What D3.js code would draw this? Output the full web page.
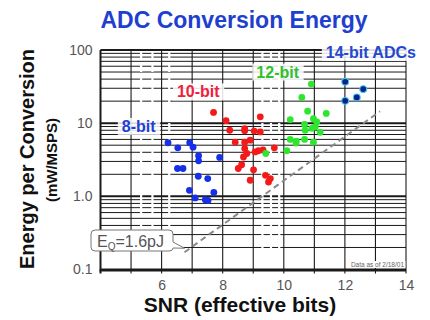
<!DOCTYPE html>
<html>
<head>
<meta charset="utf-8">
<script src="https://cdn.jsdelivr.net/npm/d3@7"></script>
<style>
  html, body { margin: 0; padding: 0; background: #fff; }
  svg { display: block; font-family: Arial, "Liberation Sans", sans-serif; }
</style>
</head>
<body>
<svg id="chart" width="430" height="320"></svg>
<script>
// Axis ticks
const xTickValues = [6, 8, 10, 12, 14];
const yTickValues = [0.1, 1, 10, 100];
const yTickLabels = ["0.1", "1.0", "10", "100"];

// 8-bit converters: effective bits and energy per conversion (nJ = mW/MSPS)
const snr8    = [6.21, 6.53, 6.92, 7.03, 7.21, 7.21, 7.90, 6.52, 6.70, 7.20, 7.51, 6.91, 7.71, 7.10, 7.43, 7.52];
const energy8 = [5.4, 4.6, 5.4, 4.7, 3.6, 3.06, 3.4, 2.4, 2.4, 1.88, 1.75, 1.21, 1.13, 0.95, 0.90, 0.88];

// 10-bit converters
const snr10    = [7.70, 8.11, 8.23, 8.72, 8.72, 9.03, 9.23, 9.23, 8.41, 8.72, 8.90, 8.72, 8.79, 8.68, 8.62, 8.51, 9.06, 9.17, 9.32, 9.69, 9.01, 8.90, 9.40, 9.56, 9.50];
const energy10 = [14.0, 10.8, 8.0, 8.4, 7.85, 7.8, 7.6, 12.2, 5.5, 5.5, 5.85, 4.5, 3.85, 3.45, 2.7, 2.4, 4.05, 4.2, 4.3, 4.6, 2.3, 1.66, 1.94, 1.75, 1.57];

// 12-bit converters
const snr12    = [10.90, 10.59, 10.78, 11.39, 10.21, 10.97, 11.08, 10.68, 11.03, 10.92, 10.70, 11.19, 10.21, 10.41, 10.40, 10.68, 10.97, 10.10, 9.41];
const energy12 = [34.2, 22.5, 14.6, 13.6, 11.2, 11.5, 10.4, 9.6, 8.9, 8.5, 8.0, 7.5, 6.0, 5.7, 5.35, 6.0, 5.5, 4.2, 3.85];

// 14-bit converters
const snr14    = [12.01, 12.60, 12.39, 12.01];
const energy14 = [36.8, 29.2, 22.5, 20.2];

// Figure of merit line: E = E_Q * 2^ENOB, with E_Q in pJ
const eqPicojoule = 1.6;
const eqLineBits = [6.75, 13.15];

const svg = d3.select("#chart");

const x = d3.scaleLinear().domain([4, 14]).range([100.5, 406]);
const y = d3.scaleLog().domain([0.1, 100]).range([269.5, 50]);

// ---- log-paper grid ----
const grid = svg.append("g");
const minorValues = y.ticks().filter(v => v >= 0.1 && v <= 100);
const isDecade = v => Math.abs(Math.log10(v) - Math.round(Math.log10(v))) < 1e-9;

grid.selectAll("line.h").data(minorValues).join("line")
  .attr("x1", x(4)).attr("x2", x(14))
  .attr("y1", d => y(d)).attr("y2", d => y(d))
  .attr("stroke", "#1a1a1a")
  .attr("stroke-width", d => isDecade(d) ? 2 : 1);

// breaks in the printed rulings of the paper
const breakBits = [5.33, 5.7, 6.25, 9.3, 9.58, 9.85];
grid.selectAll("line.brk").data(breakBits).join("line")
  .attr("x1", d => x(d)).attr("x2", d => x(d))
  .attr("y1", y(100) + 1).attr("y2", y(0.1) - 2)
  .attr("stroke", "#fff").attr("stroke-width", 2.2)
  .attr("stroke-dasharray", "9,3");

grid.selectAll("line.v").data(d3.range(4, 15)).join("line")
  .attr("x1", d => x(d)).attr("x2", d => x(d))
  .attr("y1", y(100)).attr("y2", y(0.1) + 4)
  .attr("stroke", "#1a1a1a")
  .attr("stroke-width", d => (d === 4) ? 2 : 1.1);

// bottom frame line
grid.append("line")
  .attr("x1", x(4) - 1).attr("x2", x(14))
  .attr("y1", y(0.1) + 1).attr("y2", y(0.1) + 1)
  .attr("stroke", "#1a1a1a").attr("stroke-width", 2);

// ---- axis labels ----
const yAxis = d3.axisLeft(y).tickValues(yTickValues)
  .tickFormat((d, i) => yTickLabels[i]).tickSize(0).tickPadding(8);
const gy = svg.append("g").attr("transform", `translate(${x(4)},0)`).call(yAxis);
gy.select(".domain").remove();
gy.selectAll("text").attr("font-size", 14).attr("fill", "#555")
  .attr("font-family", "Arial, 'Liberation Sans', sans-serif");

const xAxis = d3.axisBottom(x).tickValues(xTickValues).tickFormat(d3.format("d"))
  .tickSize(0).tickPadding(11);
const gx = svg.append("g").attr("transform", `translate(0,${y(0.1)})`).call(xAxis);
gx.select(".domain").remove();
gx.selectAll("text").attr("font-size", 14).attr("fill", "#555")
  .attr("font-family", "Arial, 'Liberation Sans', sans-serif");

// ---- E_Q reference line ----
const eqNanojoule = eqPicojoule / 1000;
const eqLine = d3.line().x(d => x(d)).y(d => y(eqNanojoule * Math.pow(2, d)));
svg.append("path")
  .attr("d", eqLine(eqLineBits))
  .attr("fill", "none").attr("stroke", "#8a8a8a")
  .attr("stroke-width", 2).attr("stroke-dasharray", "6,4");

// ---- data points ----
function drawSeries(bits, energy, fill, stroke) {
  svg.append("g").selectAll("circle")
    .data(bits.map((b, i) => ({ b, e: energy[i] })))
    .join("circle")
    .attr("cx", d => x(d.b)).attr("cy", d => y(d.e))
    .attr("r", 3.4)
    .attr("fill", fill)
    .attr("stroke", stroke || "none")
    .attr("stroke-width", stroke ? 1.1 : 0);
}
drawSeries(snr8, energy8, "#1530e6");
drawSeries(snr10, energy10, "#f51a1a");
drawSeries(snr12, energy12, "#2ee62e");
drawSeries(snr14, energy14, "#0c1f8c", "#3cc8e6");

// ---- series labels ----
const seriesLabels = [
  { text: "8-bit",        bits: 5.25,  val: 7.6,  color: "#1e40d6" },
  { text: "10-bit",       bits: 7.2,   val: 22.5, color: "#f0203a" },
  { text: "12-bit",       bits: 9.8,   val: 42,   color: "#2fbf2f" },
  { text: "14-bit ADCs",  bits: 12.85, val: 78,   color: "#2448d0" }
];
const lab = svg.append("g");
seriesLabels.forEach(l => {
  const t = lab.append("text")
    .attr("x", x(l.bits)).attr("y", y(l.val))
    .attr("text-anchor", "middle")
    .attr("font-size", 16).attr("font-weight", "bold")
    .attr("fill", l.color).text(l.text);
  const bb = t.node().getBBox();
  lab.insert("rect", () => t.node())
    .attr("x", bb.x - 4).attr("y", bb.y)
    .attr("width", bb.width + 8).attr("height", bb.height)
    .attr("fill", "#fff").attr("opacity", 0.85);
});

// ---- E_Q callout ----
const tipX = x(eqLineBits[0]), tipY = y(eqNanojoule * Math.pow(2, eqLineBits[0])) - 4;
const bx0 = 91, bx1 = 173, by0 = 230, by1 = 251, r = 4;
const callout = d3.path();
callout.moveTo(bx0 + r, by0);
callout.lineTo(bx1 - r, by0);
callout.quadraticCurveTo(bx1, by0, bx1, by0 + r);
callout.lineTo(bx1, by1 - 9);
callout.lineTo(tipX, tipY);
callout.lineTo(bx1, by1 - 3);
callout.lineTo(bx1, by1 - r + 1);
callout.quadraticCurveTo(bx1, by1, bx1 - r, by1);
callout.lineTo(bx0 + r, by1);
callout.quadraticCurveTo(bx0, by1, bx0, by1 - r);
callout.lineTo(bx0, by0 + r);
callout.quadraticCurveTo(bx0, by0, bx0 + r, by0);
callout.closePath();
svg.append("path").attr("d", callout.toString())
  .attr("fill", "#fff").attr("stroke", "#777").attr("stroke-width", 1);

const eqText = svg.append("text").attr("x", 97).attr("y", 247)
  .attr("font-size", 16).attr("fill", "#555");
eqText.append("tspan").text("E");
eqText.append("tspan").attr("font-size", 10).attr("dy", 3).text("Q");
eqText.append("tspan").attr("dy", -3).text(`=${eqPicojoule}pJ`);

// ---- data note ----
const note = svg.append("text").attr("x", 404).attr("y", 267)
  .attr("text-anchor", "end").attr("font-size", 6.5).attr("fill", "#666")
  .text("Data as of 2/18/01");
const nb = note.node().getBBox();
svg.insert("rect", () => note.node())
  .attr("x", nb.x - 1).attr("y", nb.y).attr("width", nb.width + 2).attr("height", nb.height)
  .attr("fill", "#fff");

// ---- titles ----
svg.append("text").attr("x", 234).attr("y", 28)
  .attr("text-anchor", "middle").attr("font-size", 23).attr("font-weight", "bold")
  .attr("fill", "#1e3fcf").text("ADC Conversion Energy");

svg.append("text")
  .attr("transform", "translate(34,159) rotate(-90)")
  .attr("text-anchor", "middle").attr("font-size", 20).attr("font-weight", "bold")
  .attr("fill", "#111").text("Energy per Conversion");

svg.append("text")
  .attr("transform", "translate(57,160) rotate(-90)")
  .attr("text-anchor", "middle").attr("font-size", 15).attr("font-weight", "bold")
  .attr("fill", "#111").text("(mW/MSPS)");

svg.append("text").attr("x", 240).attr("y", 312)
  .attr("text-anchor", "middle").attr("font-size", 21).attr("font-weight", "bold")
  .attr("fill", "#111").text("SNR (effective bits)");
</script>
</body>
</html>
